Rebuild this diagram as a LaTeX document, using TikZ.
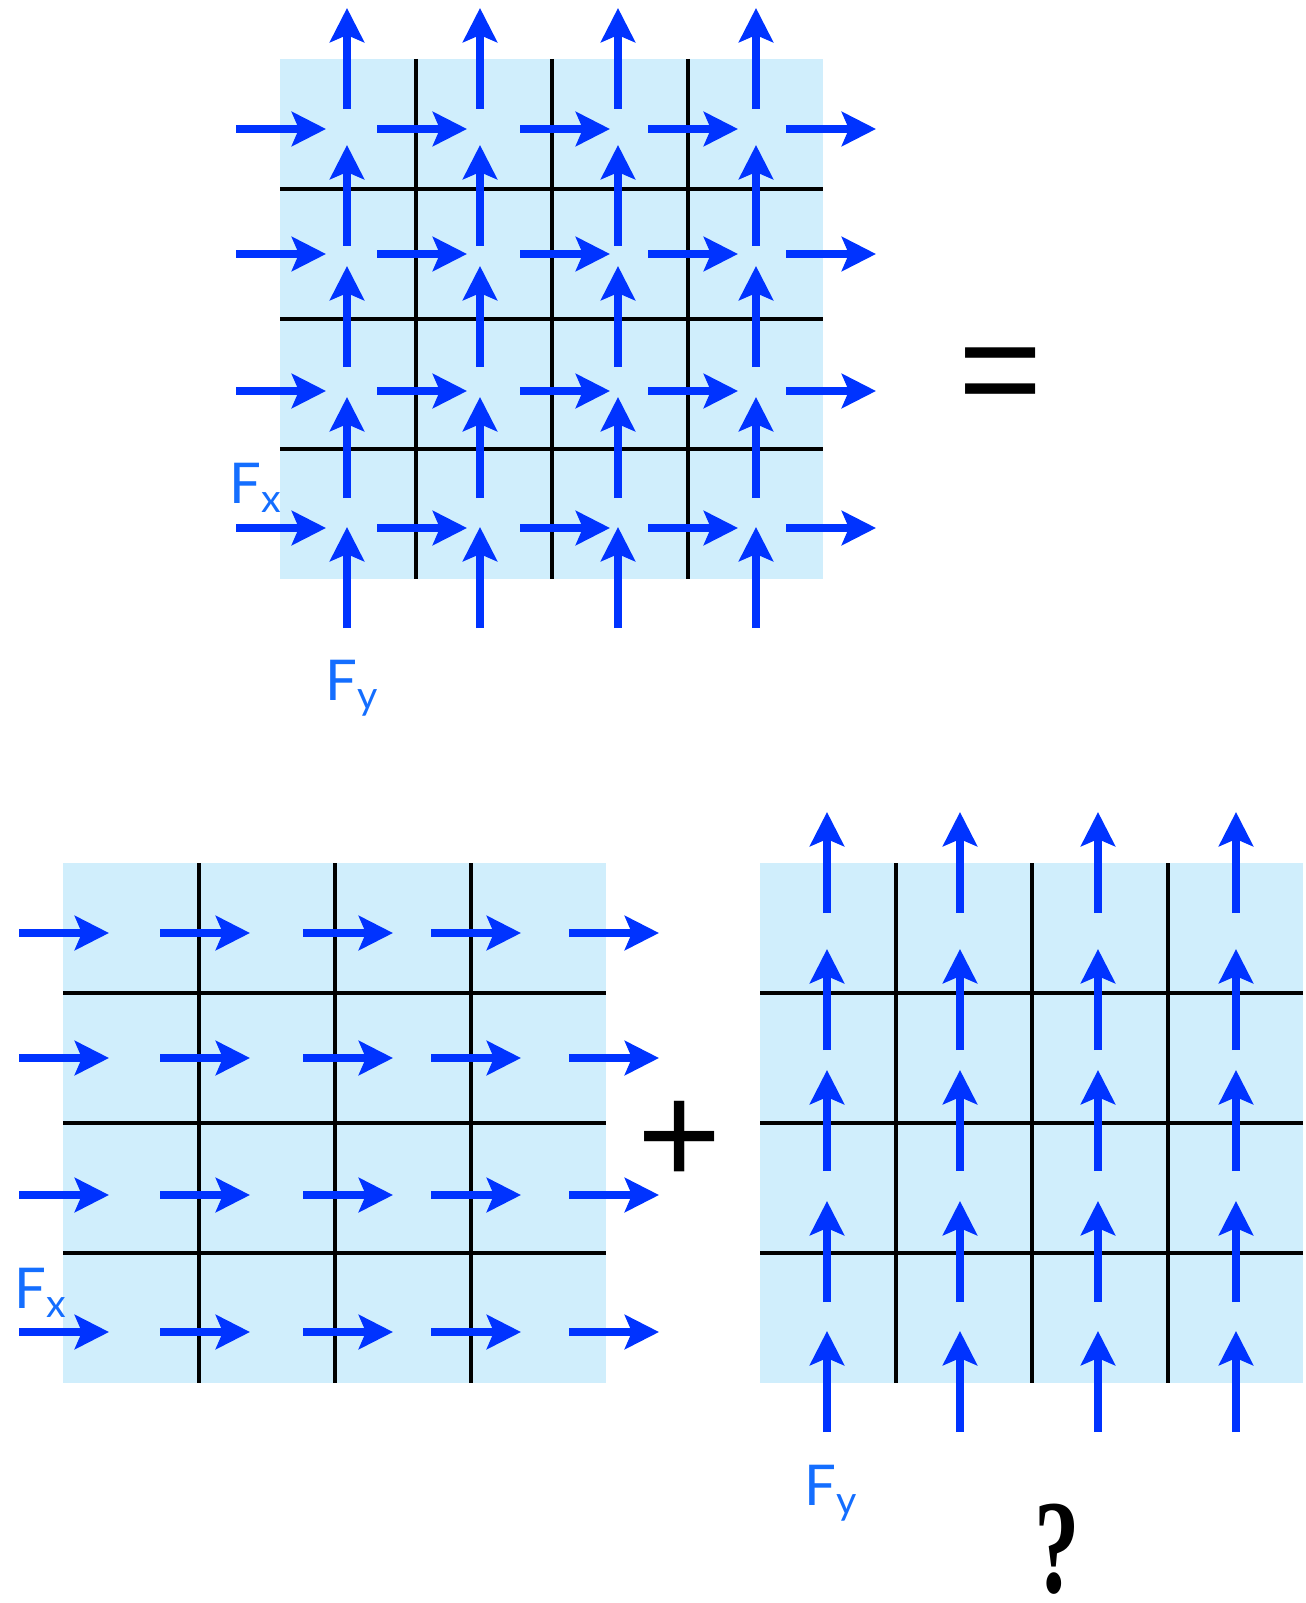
\documentclass[tikz,border=0pt]{standalone}
\usepackage{fontspec}
\setmainfont{Lato}
\newfontfamily\signfont{Liberation Sans}
\newfontfamily\questfont{Liberation Serif}
\usetikzlibrary{arrows.meta}
\definecolor{fieldblue}{RGB}{0,51,255}
\definecolor{labelblue}{RGB}{20,110,255}
\definecolor{cellfill}{RGB}{208,238,252}

\begin{document}
\begin{tikzpicture}[x=0.01cm, y=-0.01cm, line join=round,
	vec/.style={fieldblue, line width=2.3pt, -{Stealth[length=9.7pt, width=9.7pt, inset=2pt]}},
	gridline/.style={line width=1.4pt},
	lbl/.style={labelblue, font=\fontsize{16}{16}\selectfont, inner sep=0pt, anchor=base west},
	sign/.style={font=\signfont\fontsize{41}{41}\selectfont, inner sep=0pt}]
	\useasboundingbox (0,0) rectangle (1305,1603);
	\def\cells{%
		\fill[cellfill] (0,0) rectangle (543,520);
		\foreach \i in {1,2,3} {
			\draw[gridline] (136*\i,0)--(136*\i,520);
			\draw[gridline] (0,130*\i)--(543,130*\i);
		}}
	\def\hvecs{\foreach \y in {70,195,332,469} \foreach \x in {-44,97,240,368,506} \draw[vec] (\x,\y)--++(90,0);}
	\def\vvecs{\foreach \x in {67,200,338,476} \foreach \t in {-51,86,207,338,468} \draw[vec] (\x,\t+101)--(\x,\t);}
	% F = Fx + Fy
	\begin{scope}[shift={(280,59)}]
		\cells \hvecs \vvecs
	\end{scope}
	\node[lbl] (fxtop) at (229,503) {F\textsubscript{x}};
	\node[lbl] (fytop) at (325,700) {F\textsubscript{y}};
	\node[sign] (eq) at (1001,383) {=};
	% Fx alone
	\begin{scope}[shift={(63,863)}]
		\cells \hvecs
	\end{scope}
	\node[lbl] (fxbot) at (14,1308) {F\textsubscript{x}};
	\node[sign] (plus) at (680,1143) {+};
	% Fy alone
	\begin{scope}[shift={(760,863)}]
		\cells \vvecs
	\end{scope}
	\node[lbl] (fybot) at (804,1505) {F\textsubscript{y}};
	\node[font=\questfont\bfseries\fontsize{38}{38}\selectfont, inner sep=0pt, anchor=base] (quest) at (1057,1592) {\scalebox{0.68}[1]{?}};
\end{tikzpicture}
\end{document}
